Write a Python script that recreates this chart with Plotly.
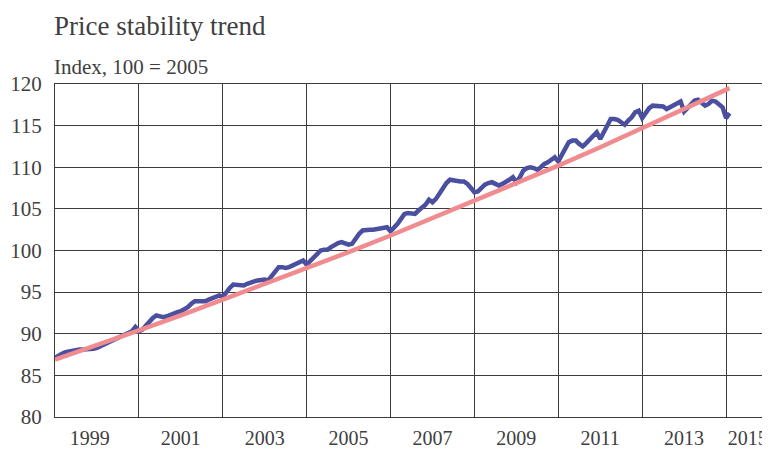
import plotly.graph_objects as go

# Monthly index values, Jan 1998 onwards
cpi_1998 = [87.1, 87.4, 87.6, 87.8, 87.9, 88.0, 88.1, 88.1, 88.1, 88.1, 88.1, 88.2]
cpi_1999 = [88.3, 88.5, 88.7, 88.9, 89.1, 89.3, 89.5, 89.7, 89.9, 90.1, 90.3, 90.8]
cpi_2000 = [90.3, 90.5, 91.0, 91.4, 91.9, 92.2, 92.1, 92.0, 92.1, 92.3, 92.4, 92.6]
cpi_2001 = [92.7, 92.9, 93.2, 93.6, 93.9, 93.9, 93.9, 93.9, 94.1, 94.3, 94.4, 94.6]
cpi_2002 = [94.4, 95.0, 95.5, 95.9, 95.9, 95.8, 95.8, 96.0, 96.2, 96.3, 96.4, 96.5]
cpi_2003 = [96.5, 96.4, 97.0, 97.6, 98.0, 98.0, 97.9, 98.0, 98.2, 98.4, 98.6, 98.8]
cpi_2004 = [98.3, 98.7, 99.2, 99.6, 100.0, 100.1, 100.1, 100.4, 100.7, 100.9, 101.0, 100.8]
cpi_2005 = [100.7, 100.8, 101.5, 102.0, 102.4, 102.5, 102.5, 102.5, 102.6, 102.6, 102.7, 102.8]
cpi_2006 = [102.3, 102.7, 103.2, 103.8, 104.4, 104.5, 104.4, 104.4, 104.8, 105.2, 105.5, 106.1]
cpi_2007 = [105.8, 106.2, 106.8, 107.6, 108.1, 108.5, 108.4, 108.3, 108.3, 108.3, 108.0, 107.5]
cpi_2008 = [107.0, 107.1, 107.6, 107.9, 108.1, 108.2, 108.0, 107.8, 108.0, 108.2, 108.5, 108.8]
cpi_2009 = [108.2, 108.8, 109.6, 109.9, 110.0, 109.9, 109.7, 110.0, 110.4, 110.6, 110.9, 111.2]
cpi_2010 = [110.7, 111.4, 112.3, 113.0, 113.2, 113.2, 112.8, 112.5, 112.9, 113.4, 113.9, 114.2]
cpi_2011 = [113.4, 114.3, 114.9, 115.8, 115.8, 115.7, 115.4, 115.1, 115.6, 116.0, 116.6, 116.8]
cpi_2012 = [115.9, 116.6, 117.1, 117.4, 117.4, 117.4, 117.3, 117.0, 117.2, 117.4, 117.7, 117.9]
cpi_2013 = [116.7, 117.1, 117.6, 118.0, 118.1, 117.8, 117.4, 117.6, 118.0, 117.9, 117.5, 117.2]
cpi_2014 = [115.9, 116.5]

cpi_values = (cpi_1998 + cpi_1999 + cpi_2000 + cpi_2001 + cpi_2002 + cpi_2003 +
              cpi_2004 + cpi_2005 + cpi_2006 + cpi_2007 + cpi_2008 + cpi_2009 +
              cpi_2010 + cpi_2011 + cpi_2012 + cpi_2013 + cpi_2014)
start_year = 1998
cpi_dates = [start_year + i / 12 for i in range(len(cpi_values))]

# Trend line values read at each January, plus the final month
trend_dates = [1998, 1999, 2000, 2001, 2002, 2003, 2004, 2005, 2006, 2007,
               2008, 2009, 2010, 2011, 2012, 2013, 2014, 2014 + 1 / 12]
trend_values = [86.9, 88.6, 90.4, 92.2, 94.1, 95.9, 97.9, 99.8, 101.8, 103.9,
                105.9, 108.1, 110.2, 112.4, 114.7, 117.0, 119.3, 119.5]

# Axis labels
x_tick_pos = [1998.83, 2001, 2003, 2005, 2007, 2009, 2011, 2013, 2014.52]
x_tick_text = ["1999", "2001", "2003", "2005", "2007", "2009", "2011", "2013", "2015"]
x_grid_years = [2000, 2002, 2004, 2006, 2008, 2010, 2012, 2014]
y_ticks = [80, 85, 90, 95, 100, 105, 110, 115, 120]

FONT = "Liberation Serif"
TXT = "#404040"
GRID = "#3c3c3c"

fig = go.Figure()
fig.add_trace(go.Scatter(x=cpi_dates, y=cpi_values, mode="lines",
                         line=dict(color="#4a4f9f", width=4.5), showlegend=False))
fig.add_trace(go.Scatter(x=trend_dates, y=trend_values, mode="lines",
                         line=dict(color="#f08c90", width=4.5), showlegend=False))

# The page body has an 8px default margin, so the figure is sized to fit inside it
fig.update_layout(
    template="none",
    width=762, height=442,
    margin=dict(l=47, r=2, t=76, b=33, autoexpand=False),
    paper_bgcolor="white", plot_bgcolor="white",
    font=dict(family=FONT, size=21, color=TXT),
    annotations=[
        dict(text="Price stability trend", xref="paper", yref="paper",
             x=0, xshift=-3, xanchor="left", y=1, yshift=58, yanchor="middle",
             showarrow=False, font=dict(family=FONT, size=27, color=TXT)),
        dict(text="Index, 100 = 2005", xref="paper", yref="paper",
             x=0, xshift=-3, xanchor="left", y=1, yshift=17, yanchor="middle",
             showarrow=False, font=dict(family=FONT, size=21, color=TXT)),
    ],
)
fig.update_xaxes(range=[1998, 2015], tickvals=x_tick_pos, ticktext=x_tick_text,
                 showgrid=False, ticks="", ticklabelstandoff=3, automargin=False,
                 tickfont=dict(size=20),
                 showline=True, linecolor=GRID, linewidth=1, mirror=True,
                 minor=dict(tickvals=x_grid_years, showgrid=True, gridcolor=GRID,
                            gridwidth=1, ticks=""),
                 zeroline=False, fixedrange=True)
fig.update_yaxes(range=[80, 120], tickvals=y_ticks, showgrid=True, gridcolor=GRID,
                 gridwidth=1, ticks="", ticklabelstandoff=8, automargin=False,
                 tickfont=dict(size=21),
                 showline=True, linecolor=GRID, linewidth=1, mirror=True,
                 zeroline=False, fixedrange=True)

fig.write_html("out.html")
